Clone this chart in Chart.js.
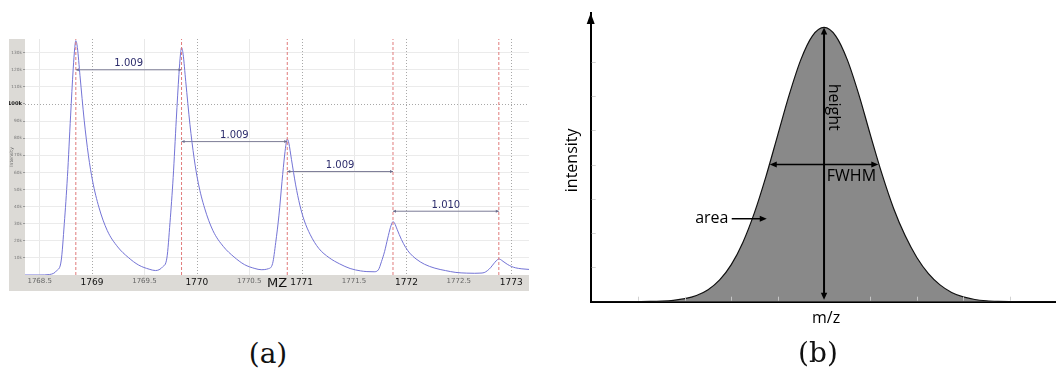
<!DOCTYPE html>
<html lang="en">
<head>
<meta charset="UTF-8" />
<title>Isotope peaks and peak shape</title>
<script src="https://cdn.jsdelivr.net/npm/chart.js"></script>
<style>
  body { margin: 0; background: #fff; width: 1056px; height: 374px; position: relative; overflow: hidden; }
  .panel { position: absolute; }
  #left { left: 9px; top: 38px; width: 520px; height: 253px; }
  #right { left: 555px; top: 0; width: 501px; height: 340px; }
  .caption {
    position: absolute;
    font-family: "DejaVu Serif", serif;
    font-size: 28px;
    color: #111;
    transform: translate(-50%, -50%);
  }
</style>
</head>
<body>

<div class="panel" id="left"><canvas id="spectrumChart"></canvas></div>
<div class="panel" id="right"><canvas id="peakChart"></canvas></div>
<div class="caption" style="left:268px; top:353px;">(a)</div>
<div class="caption" style="left:818px; top:352px;">(b)</div>

<script>
  // (a) measured spectrum, intensity in thousands
  const spectrumMz = [
    1768.36, 1768.50, 1768.595, 1768.665, 1768.705, 1768.735, 1768.765, 1768.795, 1768.82, 1768.835,
    1768.845, 1768.86, 1768.885, 1768.925, 1768.965, 1769.005, 1769.065, 1769.145, 1769.245, 1769.345,
    1769.445, 1769.545, 1769.605,
    1769.674, 1769.714, 1769.744, 1769.774, 1769.804, 1769.829, 1769.844, 1769.854, 1769.869, 1769.894,
    1769.934, 1769.974, 1770.014, 1770.074, 1770.154, 1770.254, 1770.354, 1770.454, 1770.554, 1770.614,
    1770.683, 1770.723, 1770.753, 1770.783, 1770.813, 1770.838, 1770.853, 1770.863, 1770.878, 1770.903,
    1770.943, 1770.983, 1771.023, 1771.083, 1771.163, 1771.263, 1771.363, 1771.463, 1771.563, 1771.623,
    1771.692, 1771.732, 1771.762, 1771.792, 1771.822, 1771.847, 1771.862, 1771.872, 1771.887, 1771.912,
    1771.952, 1771.992, 1772.032, 1772.092, 1772.172, 1772.272, 1772.372, 1772.472, 1772.572,
    1772.652, 1772.702, 1772.742, 1772.772, 1772.802, 1772.832, 1772.857, 1772.872, 1772.882, 1772.897,
    1772.922, 1772.962, 1773.002, 1773.042, 1773.102, 1773.182
  ];
  const spectrumIntensity = [
    0, 0, 0.3, 2.7, 8.2, 30, 57.5, 93, 120.5, 133,
    137, 133, 116.5, 90.5, 70, 55, 39.7, 26, 16.4, 10.3,
    5.8, 3.4, 2.6,
    4.8, 9.9, 30.8, 57, 91.1, 117.3, 129.2, 133, 129.1, 113.2,
    88.1, 68.3, 53.7, 39.1, 25.9, 16.6, 10.6, 6.1, 3.8, 3.1,
    3.7, 6.7, 19.1, 34.6, 54.7, 70.2, 77.2, 79.5, 77.1, 67.6,
    52.7, 40.9, 32.2, 23.5, 15.6, 10.1, 6.5, 3.8, 2.4, 2.0,
    1.9, 3.0, 7.8, 13.8, 21.6, 27.7, 30.3, 31.2, 30.3, 26.6,
    20.8, 16.2, 12.8, 9.4, 6.3, 4.0, 2.6, 1.5, 1.1,
    1.0, 1.1, 1.4, 2.5, 4.2, 6.5, 8.3, 9.1, 9.4, 9.1,
    8.0, 6.3, 5.0, 4.2, 3.6, 3.2
  ];
  const peakMz = [1768.845, 1769.854, 1770.863, 1771.872, 1772.882];
  const spacingLabels = ['1.009', '1.009', '1.009', '1.010'];
  const spacingLevels = [120, 78, 60.5, 37.3];
  const mzTicks = [1768.5, 1769, 1769.5, 1770, 1770.5, 1771, 1771.5, 1772, 1772.5, 1773];
  const intensityTicks = [10, 20, 30, 40, 50, 60, 70, 80, 90, 100, 110, 120, 130];

  // (b) idealised peak
  const profileX = [
    -5, -4.75, -4.5, -4.25, -4, -3.75, -3.5, -3.25, -3, -2.75, -2.5, -2.25, -2, -1.75, -1.5, -1.25, -1, -0.75, -0.5, -0.25,
    0, 0.25, 0.5, 0.75, 1, 1.25, 1.5, 1.75, 2, 2.25, 2.5, 2.75, 3, 3.25, 3.5, 3.75, 4, 4.25, 4.5, 4.75, 5
  ];
  const profileY = [
    0, 0.0001, 0.0003, 0.001, 0.003, 0.007, 0.018, 0.041, 0.089, 0.182, 0.352, 0.637, 1.083, 1.73, 2.597, 3.662, 4.852, 6.038, 7.06, 7.754,
    8, 7.754, 7.06, 6.04, 4.86, 3.72, 2.72, 1.92, 1.29, 0.82, 0.49, 0.27, 0.14, 0.065, 0.028, 0.011, 0.004, 0.0015, 0.0005, 0.0002, 0
  ];
  const profileTicksX = [-4, -3, -2, -1, 1, 2, 3, 4];
  const profileTicksY = [1, 2, 3, 4, 5, 6, 7];
  const peakTop = 8;
  const fwhmHalf = 1.17;

  const tickVal = c => (c && c.tick ? c.tick.value : NaN);
  const isWhole = c => Number.isInteger(tickVal(c));

  function arrowHead(ctx, x, y, angle, len, half) {
    ctx.save();
    ctx.translate(x, y);
    ctx.rotate(angle);
    ctx.beginPath();
    ctx.moveTo(0, 0);
    ctx.lineTo(-len, -half);
    ctx.lineTo(-len, half);
    ctx.closePath();
    ctx.fill();
    ctx.restore();
  }

  const spectrumDecor = {
    id: 'spectrumDecor',
    beforeDraw(chart) {
      const { ctx, chartArea: a, width, height } = chart;
      ctx.save();
      ctx.fillStyle = '#dcdad6';
      ctx.fillRect(0, a.top, a.left, height - a.top);
      ctx.fillRect(0, a.bottom, width, height - a.bottom);
      ctx.fillStyle = '#fff';
      ctx.fillRect(a.left, a.top, a.right - a.left, a.bottom - a.top);
      ctx.restore();
    },
    beforeDatasetsDraw(chart) {
      const { ctx, chartArea: a, scales: { x, y } } = chart;
      ctx.save();
      ctx.strokeStyle = '#a8a8a8';
      ctx.lineWidth = 1;
      ctx.setLineDash([1, 2]);
      mzTicks.filter(v => Number.isInteger(v)).forEach(v => {
        const px = Math.round(x.getPixelForValue(v)) + 0.5;
        ctx.beginPath(); ctx.moveTo(px, a.top); ctx.lineTo(px, a.bottom); ctx.stroke();
      });
      const py = Math.round(y.getPixelForValue(100)) + 0.5;
      ctx.beginPath(); ctx.moveTo(a.left, py); ctx.lineTo(a.right, py); ctx.stroke();
      ctx.restore();
    },
    afterDatasetsDraw(chart) {
      const { ctx, chartArea: a, scales: { x, y } } = chart;
      ctx.save();
      ctx.fillStyle = '#6d6d8c';
      spacingLevels.forEach((lvl, i) => {
        const x1 = x.getPixelForValue(peakMz[i]);
        const x2 = x.getPixelForValue(peakMz[i + 1]);
        const py = y.getPixelForValue(lvl);
        arrowHead(ctx, x1, py, Math.PI, 3, 1.5);
        arrowHead(ctx, x2, py, 0, 3, 1.5);
      });
      ctx.fillStyle = '#2c2c6c';
      ctx.font = '10px "DejaVu Sans"';
      ctx.textAlign = 'center';
      ctx.textBaseline = 'middle';
      spacingLevels.forEach((lvl, i) => {
        const mid = (x.getPixelForValue(peakMz[i]) + x.getPixelForValue(peakMz[i + 1])) / 2;
        ctx.fillText(spacingLabels[i], mid, y.getPixelForValue(lvl) - 6);
      });
      ctx.fillStyle = '#111';
      ctx.font = '13px "DejaVu Sans"';
      ctx.fillText('MZ', (a.left + a.right) / 2, a.bottom + 9);
      ctx.restore();
    }
  };

  const peakDecor = {
    id: 'peakDecor',
    afterDatasetsDraw(chart) {
      const { ctx, chartArea: a, scales: { x, y } } = chart;
      ctx.save();
      // faint tick marks inside the axes
      ctx.strokeStyle = 'rgba(205,205,205,0.9)';
      ctx.lineWidth = 1;
      profileTicksX.forEach(v => {
        const px = Math.round(x.getPixelForValue(v)) + 0.5;
        ctx.beginPath(); ctx.moveTo(px, a.bottom - 1); ctx.lineTo(px, a.bottom - 5); ctx.stroke();
      });
      profileTicksY.forEach(v => {
        const py = Math.round(y.getPixelForValue(v)) + 0.5;
        ctx.beginPath(); ctx.moveTo(a.left + 1, py); ctx.lineTo(a.left + 5, py); ctx.stroke();
      });

      ctx.fillStyle = '#000';
      ctx.strokeStyle = '#000';
      // y axis arrow
      arrowHead(ctx, a.left, a.top, -Math.PI / 2, 11, 4);

      // height
      const cx = x.getPixelForValue(0);
      const top = y.getPixelForValue(peakTop);
      const base = y.getPixelForValue(0);
      ctx.lineWidth = 2;
      ctx.beginPath(); ctx.moveTo(cx, top + 6); ctx.lineTo(cx, base - 6); ctx.stroke();
      arrowHead(ctx, cx, top, -Math.PI / 2, 7, 3.2);
      arrowHead(ctx, cx, base - 2, Math.PI / 2, 7, 3.2);

      // FWHM
      const hy = y.getPixelForValue(peakTop / 2);
      const fl = x.getPixelForValue(-fwhmHalf);
      const fr = x.getPixelForValue(fwhmHalf);
      ctx.lineWidth = 1.5;
      ctx.beginPath(); ctx.moveTo(fl + 5, hy); ctx.lineTo(fr - 5, hy); ctx.stroke();
      arrowHead(ctx, fl, hy, Math.PI, 7, 3);
      arrowHead(ctx, fr, hy, 0, 7, 3);

      // area pointer
      const ay = y.getPixelForValue(2.42);
      const ax1 = x.getPixelForValue(-1.99);
      const ax2 = x.getPixelForValue(-1.235);
      ctx.beginPath(); ctx.moveTo(ax1, ay); ctx.lineTo(ax2 - 5, ay); ctx.stroke();
      arrowHead(ctx, ax2, ay, 0, 7, 3);

      ctx.font = '16px "Open Sans"';
      ctx.textBaseline = 'middle';
      ctx.textAlign = 'right';
      ctx.fillText('area', x.getPixelForValue(-2.06), ay);
      ctx.textAlign = 'left';
      ctx.fillText('FWHM', x.getPixelForValue(0.06), y.getPixelForValue(3.65));
      ctx.textAlign = 'center';
      ctx.fillText('m/z', cx + 2, a.bottom + 17);

      ctx.save();
      ctx.translate(x.getPixelForValue(0.2), y.getPixelForValue(5.67));
      ctx.rotate(Math.PI / 2);
      ctx.fillText('height', 0, 0);
      ctx.restore();

      ctx.save();
      ctx.translate(a.left - 18, (a.top + a.bottom) / 2 + 3);
      ctx.rotate(-Math.PI / 2);
      ctx.fillText('intensity', 0, 0);
      ctx.restore();
      ctx.restore();
    }
  };

  const peakLineSets = peakMz.map(p => ({
    data: [{ x: p, y: 0 }, { x: p, y: 138 }],
    showLine: true,
    borderColor: '#e07b7b',
    borderWidth: 1,
    borderDash: [3, 2],
    pointRadius: 0
  }));
  const spacingSets = spacingLevels.map((lvl, i) => ({
    data: [{ x: peakMz[i], y: lvl }, { x: peakMz[i + 1], y: lvl }],
    showLine: true,
    borderColor: '#7c7c96',
    borderWidth: 1,
    pointRadius: 0
  }));

  new Chart(document.getElementById('spectrumChart'), {
    type: 'scatter',
    data: {
      datasets: [
        ...peakLineSets,
        {
          data: spectrumMz.map((m, i) => ({ x: m, y: spectrumIntensity[i] })),
          showLine: true,
          borderColor: '#7474d6',
          borderWidth: 1,
          pointRadius: 0,
          cubicInterpolationMode: 'monotone'
        },
        ...spacingSets
      ]
    },
    options: {
      animation: false,
      responsive: true,
      maintainAspectRatio: false,
      layout: { padding: { top: 1, left: 0, right: 0, bottom: 0 } },
      plugins: { legend: { display: false }, tooltip: { enabled: false } },
      scales: {
        x: {
          type: 'linear',
          min: 1768.36,
          max: 1773.17,
          afterBuildTicks: s => { s.ticks = mzTicks.map(v => ({ value: v })); },
          afterFit: s => { s.height = 16; s.paddingLeft = 0; s.paddingRight = 0; },
          border: { display: false },
          grid: {
            drawTicks: false,
            color: c => isWhole(c) ? 'rgba(0,0,0,0)' : '#e8e8e8'
          },
          ticks: {
            padding: 2,
            maxRotation: 0,
            autoSkip: false,
            callback: v => String(v),
            color: c => isWhole(c) ? '#111' : '#666',
            font: c => ({ family: 'DejaVu Sans', size: isWhole(c) ? 9 : 7 })
          }
        },
        y: {
          min: 0,
          max: 138,
          afterBuildTicks: s => { s.ticks = intensityTicks.map(v => ({ value: v })); },
          afterFit: s => { s.width = 16; s.paddingTop = 0; s.paddingBottom = 0; },
          border: { display: false },
          grid: {
            tickLength: 2,
            tickColor: '#999',
            color: c => tickVal(c) === 100 ? 'rgba(0,0,0,0)' : '#ebebeb'
          },
          title: {
            display: true,
            text: 'Intensity',
            color: '#666',
            padding: 0,
            font: { family: 'DejaVu Sans', size: 4.5 }
          },
          ticks: {
            padding: 1,
            autoSkip: false,
            callback: v => v + 'k',
            color: c => tickVal(c) === 100 ? '#111' : '#777',
            font: c => tickVal(c) === 100
              ? { family: 'DejaVu Sans', size: 5.2, weight: 'bold' }
              : { family: 'DejaVu Sans', size: 4.3 }
          }
        }
      }
    },
    plugins: [spectrumDecor]
  });

  new Chart(document.getElementById('peakChart'), {
    type: 'scatter',
    data: {
      datasets: [{
        data: profileX.map((v, i) => ({ x: v, y: profileY[i] })),
        showLine: true,
        fill: 'origin',
        backgroundColor: '#898989',
        borderColor: '#111',
        borderWidth: 1.2,
        pointRadius: 0,
        cubicInterpolationMode: 'monotone'
      }]
    },
    options: {
      animation: false,
      responsive: true,
      maintainAspectRatio: false,
      layout: { padding: { top: 13, left: 0, right: 0, bottom: 0 } },
      plugins: { legend: { display: false }, tooltip: { enabled: false } },
      scales: {
        x: {
          type: 'linear',
          min: -5.03,
          max: 5,
          afterFit: s => { s.height = 38.3; },
          grid: { display: false },
          ticks: { display: false },
          border: { display: true, color: '#000', width: 2 }
        },
        y: {
          min: 0,
          max: 8.42,
          afterFit: s => { s.width = 35.7; },
          grid: { display: false },
          ticks: { display: false },
          border: { display: true, color: '#000', width: 2 }
        }
      }
    },
    plugins: [peakDecor]
  });
</script>
</body>
</html>
